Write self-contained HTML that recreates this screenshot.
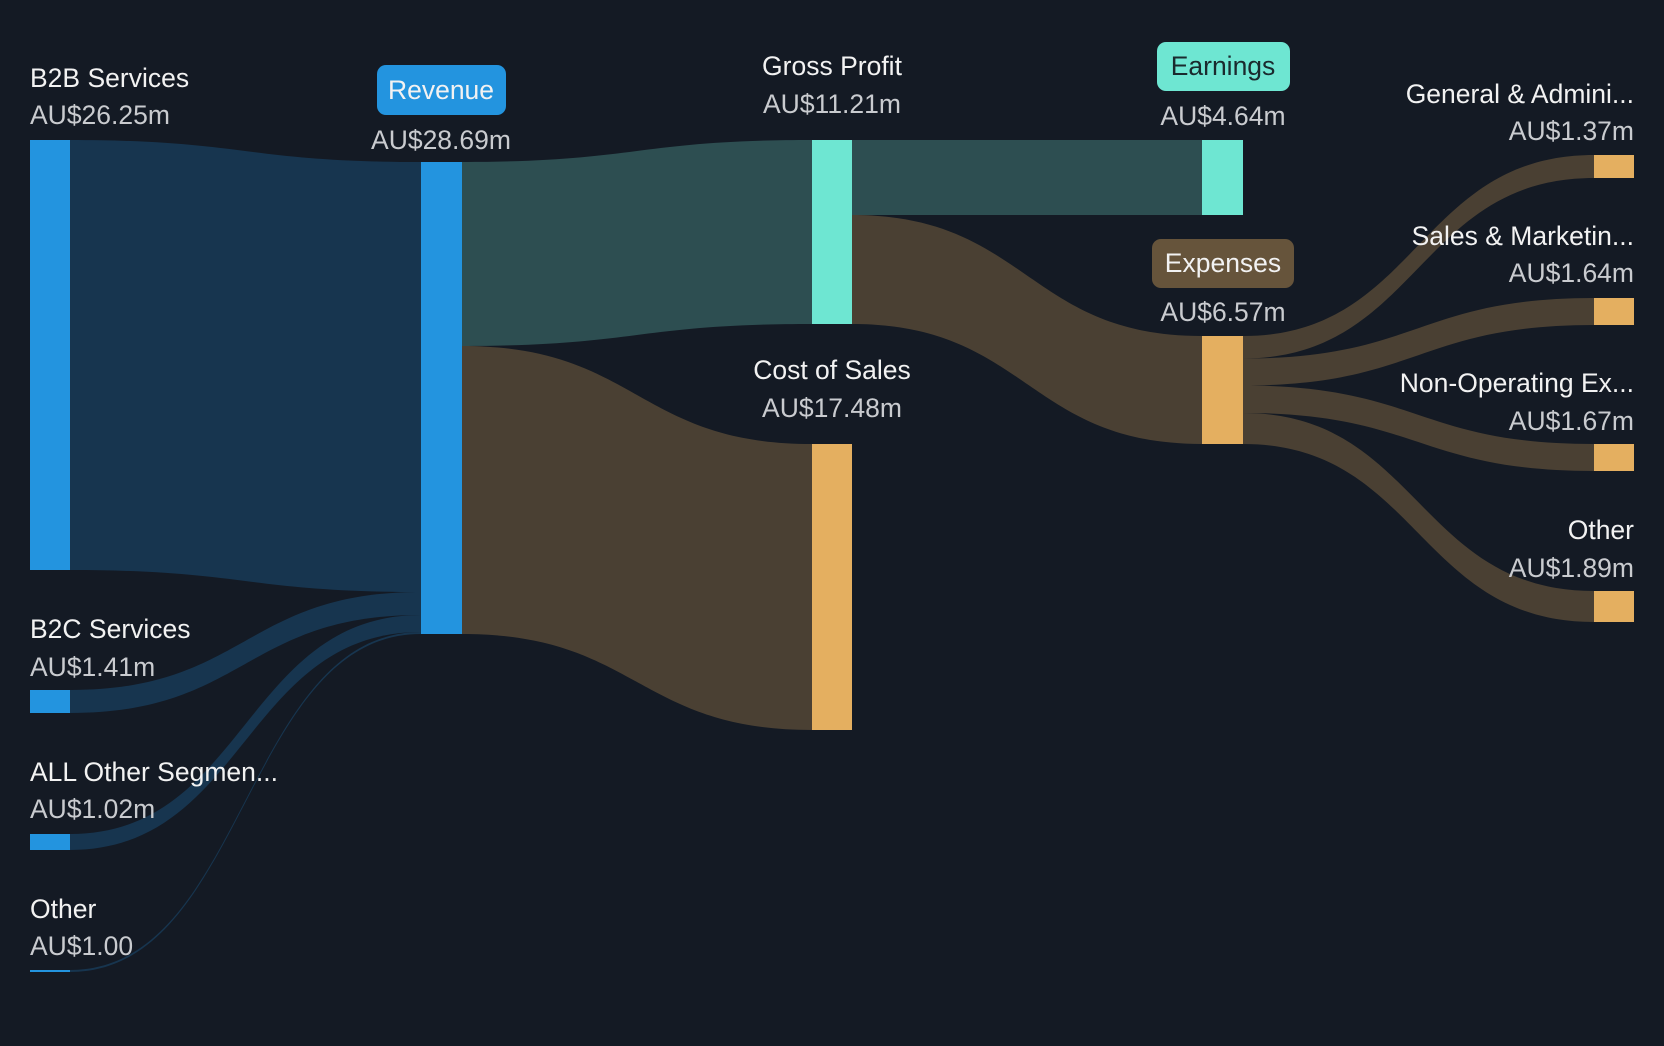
<!DOCTYPE html>
<html><head><style>
html,body{margin:0;padding:0;background:#141a24;}
svg{display:block}
text{font-family:"Liberation Sans",sans-serif;font-size:26.5px;}
.l{fill:#f2f2f2}.v{fill:#c9cbcf}
</style></head><body>
<svg width="1664" height="1046" viewBox="0 0 1664 1046" xmlns="http://www.w3.org/2000/svg">
<rect width="1664" height="1046" fill="#141a24"/>
<g fill="#17354f">
<path d="M70,140 C245,140 245,162 421,162 L421,592 C245,592 245,570 70,570 Z"/>
<path d="M70,690 C245,690 245,592 421,592 L421,615 C245,615 245,713 70,713 Z"/>
<path d="M70,834 C245,834 245,615 421,615 L421,632 C245,632 245,850 70,850 Z"/>
<path d="M70,970 C245,970 245,632 421,632 L421,634 C245,634 245,972 70,972 Z"/>
</g>
<path fill="#2d4e51" d="M462,162 C637,162 637,140 812,140 L812,324 C637,324 637,346 462,346 Z"/>
<path fill="#4a4033" d="M462,346 C637,346 637,444 812,444 L812,730 C637,730 637,634 462,634 Z"/>
<path fill="#2d4e51" d="M852,140 L1202,140 L1202,215 L852,215 Z"/>
<path fill="#4a4033" d="M852,215 C1027,215 1027,336 1202,336 L1202,444 C1027,444 1027,324 852,324 Z"/>
<g fill="#4a4033">
<path d="M1243,336 C1418,336 1418,155 1594,155 L1594,178 C1418,178 1418,358.5 1243,358.5 Z"/>
<path d="M1243,358.5 C1418,358.5 1418,298 1594,298 L1594,325 C1418,325 1418,385.5 1243,385.5 Z"/>
<path d="M1243,385.5 C1418,385.5 1418,444 1594,444 L1594,471 C1418,471 1418,413 1243,413 Z"/>
<path d="M1243,413 C1418,413 1418,591 1594,591 L1594,622 C1418,622 1418,444 1243,444 Z"/>
</g>
<g fill="#2394df">
<rect x="30" y="140" width="40" height="430"/>
<rect x="30" y="690" width="40" height="23"/>
<rect x="30" y="834" width="40" height="16"/>
<rect x="30" y="970" width="40" height="2"/>
<rect x="421" y="162" width="41" height="472"/>
</g>
<rect x="812" y="140" width="40" height="184" fill="#6ee6d2"/>
<rect x="1202" y="140" width="41" height="75" fill="#6ee6d2"/>
<g fill="#e4af60">
<rect x="812" y="444" width="40" height="286"/>
<rect x="1202" y="336" width="41" height="108"/>
<rect x="1594" y="155" width="40" height="23"/>
<rect x="1594" y="298" width="40" height="27"/>
<rect x="1594" y="444" width="40" height="27"/>
<rect x="1594" y="591" width="40" height="31"/>
</g>
<text class="l" x="30" y="87">B2B Services</text>
<text class="v" x="30" y="124">AU$26.25m</text>
<text class="l" x="30" y="638">B2C Services</text>
<text class="v" x="30" y="676">AU$1.41m</text>
<text class="l" x="30" y="781">ALL Other Segmen...</text>
<text class="v" x="30" y="818">AU$1.02m</text>
<text class="l" x="30" y="918">Other</text>
<text class="v" x="30" y="955">AU$1.00</text>
<rect x="377" y="65" width="129" height="50" rx="9" fill="#2394df"/>
<text class="l" x="441" y="99" text-anchor="middle" fill="#fff">Revenue</text>
<text class="v" x="441" y="149" text-anchor="middle">AU$28.69m</text>
<text class="l" x="832" y="75" text-anchor="middle">Gross Profit</text>
<text class="v" x="832" y="113" text-anchor="middle">AU$11.21m</text>
<text class="l" x="832" y="379" text-anchor="middle">Cost of Sales</text>
<text class="v" x="832" y="417" text-anchor="middle">AU$17.48m</text>
<rect x="1157" y="42" width="133" height="49" rx="9" fill="#6ee6d2"/>
<text x="1223" y="75" text-anchor="middle" fill="#1a2a2e">Earnings</text>
<text class="v" x="1223" y="125" text-anchor="middle">AU$4.64m</text>
<rect x="1152" y="239" width="142" height="49" rx="9" fill="#66543b"/>
<text class="l" x="1223" y="272" text-anchor="middle">Expenses</text>
<text class="v" x="1223" y="321" text-anchor="middle">AU$6.57m</text>
<g text-anchor="end">
<text class="l" x="1634" y="103">General &amp; Admini...</text>
<text class="v" x="1634" y="140">AU$1.37m</text>
<text class="l" x="1634" y="245">Sales &amp; Marketin...</text>
<text class="v" x="1634" y="282">AU$1.64m</text>
<text class="l" x="1634" y="392">Non-Operating Ex...</text>
<text class="v" x="1634" y="430">AU$1.67m</text>
<text class="l" x="1634" y="539">Other</text>
<text class="v" x="1634" y="577">AU$1.89m</text>
</g>
</svg>
</body></html>
